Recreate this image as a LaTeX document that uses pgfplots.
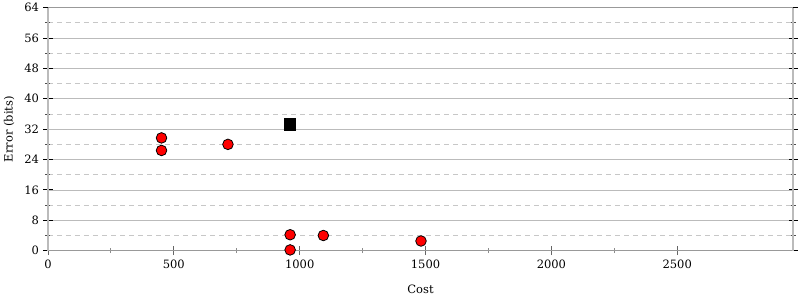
\documentclass[border=0pt]{standalone}
\usepackage{pgfplots}
\pgfplotsset{compat=1.18}
\usepackage{fontspec}
\setmainfont{DejaVu Serif}
\definecolor{axlight}{HTML}{BBBBBB}
\definecolor{axdark}{HTML}{999999}
\begin{document}
\begin{tikzpicture}
\begin{axis}[
  scale only axis,
  width=745pt, height=243pt,
  xmin=0, xmax=2960, ymin=0, ymax=64,
  separate axis lines,
  every outer x axis line/.append style={color=axdark, line width=1.4pt},
  every outer y axis line/.append style={color=axlight, line width=1.8pt},
  xtick={0,500,...,2500},
  ytick={0,8,...,64},
  minor x tick num=1,
  minor y tick num=1,
  tick align=center,
  major tick length=9pt,
  minor tick length=5pt,
  xtick pos=bottom,
  ytick pos=both,
  xtick style={color=black!60, line width=0.9pt},
  ytick style={color=black, line width=0.9pt},
  minor x tick style={color=black!45, line width=0.9pt},
  minor y tick style={color=black!70, line width=0.8pt},
  ymajorgrids, yminorgrids,
  major grid style={color=axlight, line width=0.8pt},
  minor grid style={color=black!22, dash pattern=on 5pt off 4pt, line width=0.8pt},
  extra y ticks={32},
  extra y tick labels={},
  extra y tick style={grid style={color=black!13, line width=1.6pt}, major tick length=0pt},
  /pgf/number format/assume math mode=true,
  /pgf/number format/set thousands separator={},
  ticklabel style={font=\fontsize{11.5}{13}\selectfont},
  label style={font=\fontsize{11.5}{13}\selectfont},
  xlabel={Cost},
  ylabel={Error (bits)},
  xlabel style={at={(axis description cs:0.5,0)}, anchor=north, yshift=-31pt},
  ylabel style={at={(axis description cs:0,0.5)}, anchor=south, xshift=0pt, yshift=30pt},
  yticklabel style={xshift=-1pt},
  xticklabel style={yshift=-1pt},
  clip=false,
  axis on top=false,
]
\addplot[only marks, mark=*, mark size=5.3pt, mark options={fill=red, draw=black, line width=0.8pt}]
coordinates {(451,29.7) (451,26.4) (715,28.0) (962,4.2) (962,0.2) (1094,4.0) (1482,2.55)};
\addplot[only marks, mark=square*, mark size=5.6pt, mark options={fill=black, draw=black}]
coordinates {(961,33.3)};
\end{axis}
\path ([xshift=-48pt,yshift=-50pt]current axis.south west) rectangle ([xshift=7pt,yshift=7.3pt]current axis.north east);
\end{tikzpicture}
\end{document}
